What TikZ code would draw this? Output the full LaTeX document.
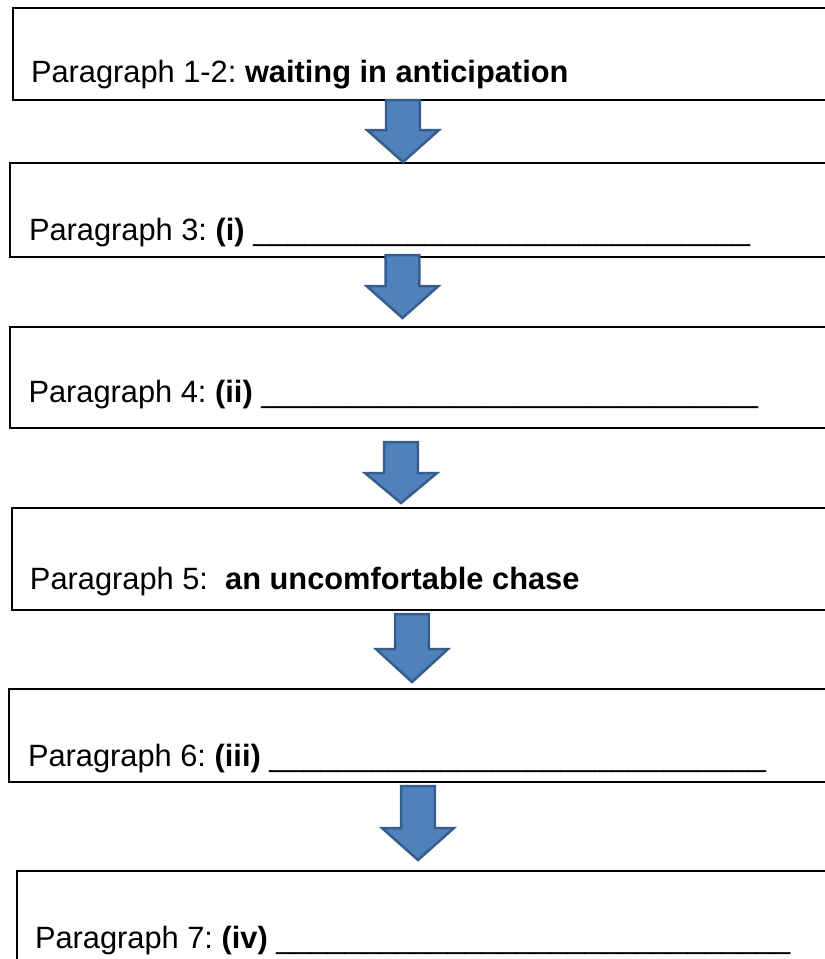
\documentclass[tikz,border=0pt]{standalone}
\usepackage{fontspec}
\setmainfont{Liberation Sans}
\usetikzlibrary{calc}
\definecolor{arrfill}{HTML}{4F81BD}
\definecolor{arrline}{HTML}{385D8A}
\tikzset{
  boxshape/.style={draw=black, line width=2pt, inner sep=0pt, outer sep=0pt, anchor=north west, minimum width=840pt},
  boxtext/.style={anchor=base west, inner sep=0pt, outer sep=0pt, font=\fontsize{30.8}{36}\selectfont},
  blkarrow/.style={fill=arrfill, draw=arrline, line width=2.5pt, line join=miter}
}
\newcommand{\blkarr}[7]{%
  \coordinate (#1s) at (#2,#3);
  \coordinate (#1e) at (#2,#5);
  \draw[blkarrow] ($(#1s)+(-#6,0)$) -- ($(#1s)+(#6,0)$) -- (#2+#6,#4) -- (#2+#7,#4) -- (#1e) -- (#2-#7,#4) -- (#2-#6,#4) -- cycle;}
\frenchspacing
\begin{document}
\begin{tikzpicture}[x=1pt,y=-1pt]
\useasboundingbox (0,0) rectangle (825,959);
\fill[white] (0,0) rectangle (825,959);
\begin{scope}
\clip (0,0) rectangle (825,959);
% boxes
\node[boxshape, minimum height=92pt] (b1) at (12.5,7.5) {};
\node[boxshape, minimum height=94pt] (b2) at (10,163) {};
\node[boxshape, minimum height=101pt] (b3) at (10,327) {};
\node[boxshape, minimum height=102pt] (b4) at (11.7,508) {};
\node[boxshape, minimum height=93pt] (b5) at (8.5,689) {};
\node[boxshape, minimum height=120pt] (b6) at (16.7,871) {};
% texts
\node[boxtext] (t1) at (31,82) {Paragraph 1-2: \textbf{waiting in anticipation}};
\node[boxtext] (t2) at (29,240) {Paragraph 3: \textbf{(i)} \_\_\_\_\_\_\_\_\_\_\_\_\_\_\_\_\_\_\_\_\_\_\_\_\_\_\_\_\_};
\node[boxtext] (t3) at (28.5,402) {Paragraph 4: \textbf{(ii)} \_\_\_\_\_\_\_\_\_\_\_\_\_\_\_\_\_\_\_\_\_\_\_\_\_\_\_\_\_};
\node[boxtext] (t4) at (30,589) {Paragraph 5:\ \ \textbf{an uncomfortable chase}};
\node[boxtext] (t5) at (28,766) {Paragraph 6: \textbf{(iii)} \_\_\_\_\_\_\_\_\_\_\_\_\_\_\_\_\_\_\_\_\_\_\_\_\_\_\_\_\_};
\node[boxtext] (t6) at (35,948) {Paragraph 7: \textbf{(iv)} \_\_\_\_\_\_\_\_\_\_\_\_\_\_\_\_\_\_\_\_\_\_\_\_\_\_\_\_\_\_};
% block arrows
\blkarr{a1}{403}{100}{130}{162}{16.8}{36}
\blkarr{a2}{402.5}{255}{286}{318}{16.8}{36}
\blkarr{a3}{401}{442}{473}{503}{16.8}{36}
\blkarr{a4}{412}{614}{649}{682}{16.8}{36}
\blkarr{a5}{418}{786}{828}{860}{16.8}{36}
\end{scope}
\end{tikzpicture}
\end{document}
